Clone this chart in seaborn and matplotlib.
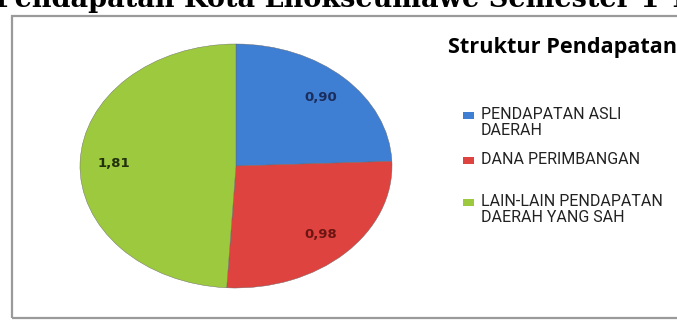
import matplotlib
matplotlib.use("Agg")
import matplotlib.pyplot as plt
from matplotlib.patches import Rectangle
import seaborn as sns

# data
categories = ["PENDAPATAN ASLI\nDAERAH", "DANA PERIMBANGAN", "LAIN-LAIN PENDAPATAN\nDAERAH YANG SAH"]
values = [0.90, 0.98, 1.81]
value_labels = ["0,90", "0,98", "1,81"]

colours = ["#3f7fd3", "#df4340", "#9dc93e"]
label_colours = ["#1b2d5c", "#6b1512", "#22300c"]

sns.set_theme(style="white")
plt.rcParams['font.family'] = ['Roboto', 'DejaVu Sans']

W, H = 677, 320
fig = plt.figure(figsize=(W / 100, H / 100), dpi=100)
fig.patch.set_facecolor("white")

def fx(px):
    return px / W

def fy(py):
    return 1 - py / H

# outer chart frame (runs off the right edge)
fig.add_artist(Rectangle((fx(12), fy(318)), fx(700) - fx(12), fy(16) - fy(318),
                         transform=fig.transFigure, fill=False,
                         edgecolor="#9a9a9a", linewidth=1.6, clip_on=False))

# page heading, cut off by the top edge as in the source
fig.text(fx(-5), fy(7), "Pendapatan Kota Lhokseumawe Semester 1 Tahun 2012",
         fontsize=19.5, fontweight="bold", family="DejaVu Serif",
         ha="left", va="baseline", color="black")

# elliptical pie
ax = fig.add_axes([fx(80), fy(288), fx(392) - fx(80), fy(44) - fy(288)])
wedges, texts = ax.pie(values, colors=colours, startangle=90, counterclock=False,
                       labels=value_labels, labeldistance=0.78,
                       wedgeprops=dict(edgecolor="#666666", linewidth=0.3),
                       textprops=dict(fontsize=9.5, fontweight="bold", family="DejaVu Sans"))
for t, c in zip(texts, label_colours):
    t.set_color(c)
    t.set_horizontalalignment("center")
    t.set_verticalalignment("center")
ax.set_aspect("auto")
ax.set_xlim(-1.0, 1.0)
ax.set_ylim(-1.0, 1.0)
ax.axis("off")

# legend block
fig.text(fx(448), fy(47), "Struktur Pendapatan", fontsize=15.6, fontweight="bold",
         family="Open Sans", ha="left", va="center", color="black")

legend_y = [115, 160, 202]
for lab, col, y in zip(categories, colours, legend_y):
    fig.add_artist(Rectangle((fx(463), fy(y + 3.5)), fx(11), 7 / H,
                             transform=fig.transFigure, facecolor=col,
                             edgecolor="none", clip_on=False))
    fig.text(fx(481), fy(y - 8), lab, fontsize=11.5, ha="left", va="top",
             color="#222222", linespacing=1.05)

fig.savefig("out.png", dpi=100)
